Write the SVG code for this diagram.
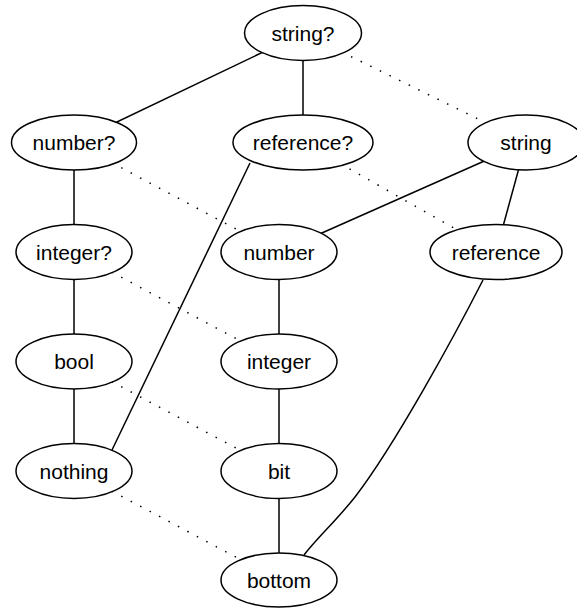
<svg xmlns="http://www.w3.org/2000/svg" width="577" height="608" viewBox="0 0 577 608">
<style>
.n ellipse{fill:#fff;stroke:#000;stroke-width:1.5}
.n text{font-family:"Liberation Sans",Arial,sans-serif;font-size:21px;text-anchor:middle;fill:#000}
.e{fill:none;stroke:#000;stroke-width:1.5}
.d{fill:none;stroke:#000;stroke-width:1.5;stroke-dasharray:1.5 9.2}
</style>
<rect width="577" height="608" fill="#fff"/>
<g id="connectors">
<line class="e" x1="303" y1="33" x2="74" y2="142.5"/>
<line class="e" x1="303" y1="33" x2="303" y2="142.5"/>
<line class="e" x1="74" y1="142.5" x2="74" y2="252"/>
<line class="e" x1="74" y1="252" x2="74" y2="361.5"/>
<line class="e" x1="74" y1="361.5" x2="74" y2="471"/>
<line class="e" x1="250" y1="163" x2="112" y2="450"/>
<line class="e" x1="526" y1="142.5" x2="279" y2="252"/>
<line class="e" x1="526" y1="142.5" x2="496" y2="252"/>
<line class="e" x1="279" y1="252" x2="279" y2="361.5"/>
<line class="e" x1="279" y1="361.5" x2="279" y2="471"/>
<line class="e" x1="279" y1="471" x2="279" y2="580"/>
<path class="e" d="M483,280 C455,335 395,445 355,497 C336,521 318,537 304,555"/>
<line class="d" x1="303" y1="33" x2="526" y2="142.5"/>
<line class="d" x1="74" y1="142.5" x2="279" y2="252"/>
<line class="d" x1="303" y1="142.5" x2="496" y2="252"/>
<line class="d" x1="74" y1="252" x2="279" y2="361.5"/>
<line class="d" x1="74" y1="361.5" x2="279" y2="471"/>
<line class="d" x1="74" y1="471" x2="279" y2="580"/>
</g>
<g id="string_q" class="n"><ellipse cx="303" cy="33" rx="58.5" ry="27.5"/><text x="303" y="40.5">string?</text></g>
<g id="number_q" class="n"><ellipse cx="74" cy="142.5" rx="62.5" ry="27.5"/><text x="74" y="150">number?</text></g>
<g id="reference_q" class="n"><ellipse cx="303" cy="142.5" rx="70" ry="27.5"/><text x="303" y="150">reference?</text></g>
<g id="string" class="n"><ellipse cx="526" cy="142.5" rx="58" ry="27.5"/><text x="526" y="150">string</text></g>
<g id="integer_q" class="n"><ellipse cx="74" cy="252" rx="58" ry="27.5"/><text x="74" y="259.5">integer?</text></g>
<g id="number" class="n"><ellipse cx="279" cy="252" rx="58" ry="27.5"/><text x="279" y="259.5">number</text></g>
<g id="reference" class="n"><ellipse cx="496" cy="252" rx="66" ry="27.5"/><text x="496" y="259.5">reference</text></g>
<g id="bool" class="n"><ellipse cx="74" cy="361.5" rx="58" ry="27.5"/><text x="74" y="369">bool</text></g>
<g id="integer" class="n"><ellipse cx="279" cy="361.5" rx="58" ry="27.5"/><text x="279" y="369">integer</text></g>
<g id="nothing" class="n"><ellipse cx="74" cy="471" rx="58" ry="27.5"/><text x="74" y="478.5">nothing</text></g>
<g id="bit" class="n"><ellipse cx="279" cy="471" rx="58" ry="27.5"/><text x="279" y="478.5">bit</text></g>
<g id="bottom" class="n"><ellipse cx="279" cy="580" rx="58" ry="27"/><text x="279" y="587.5">bottom</text></g>
</svg>
